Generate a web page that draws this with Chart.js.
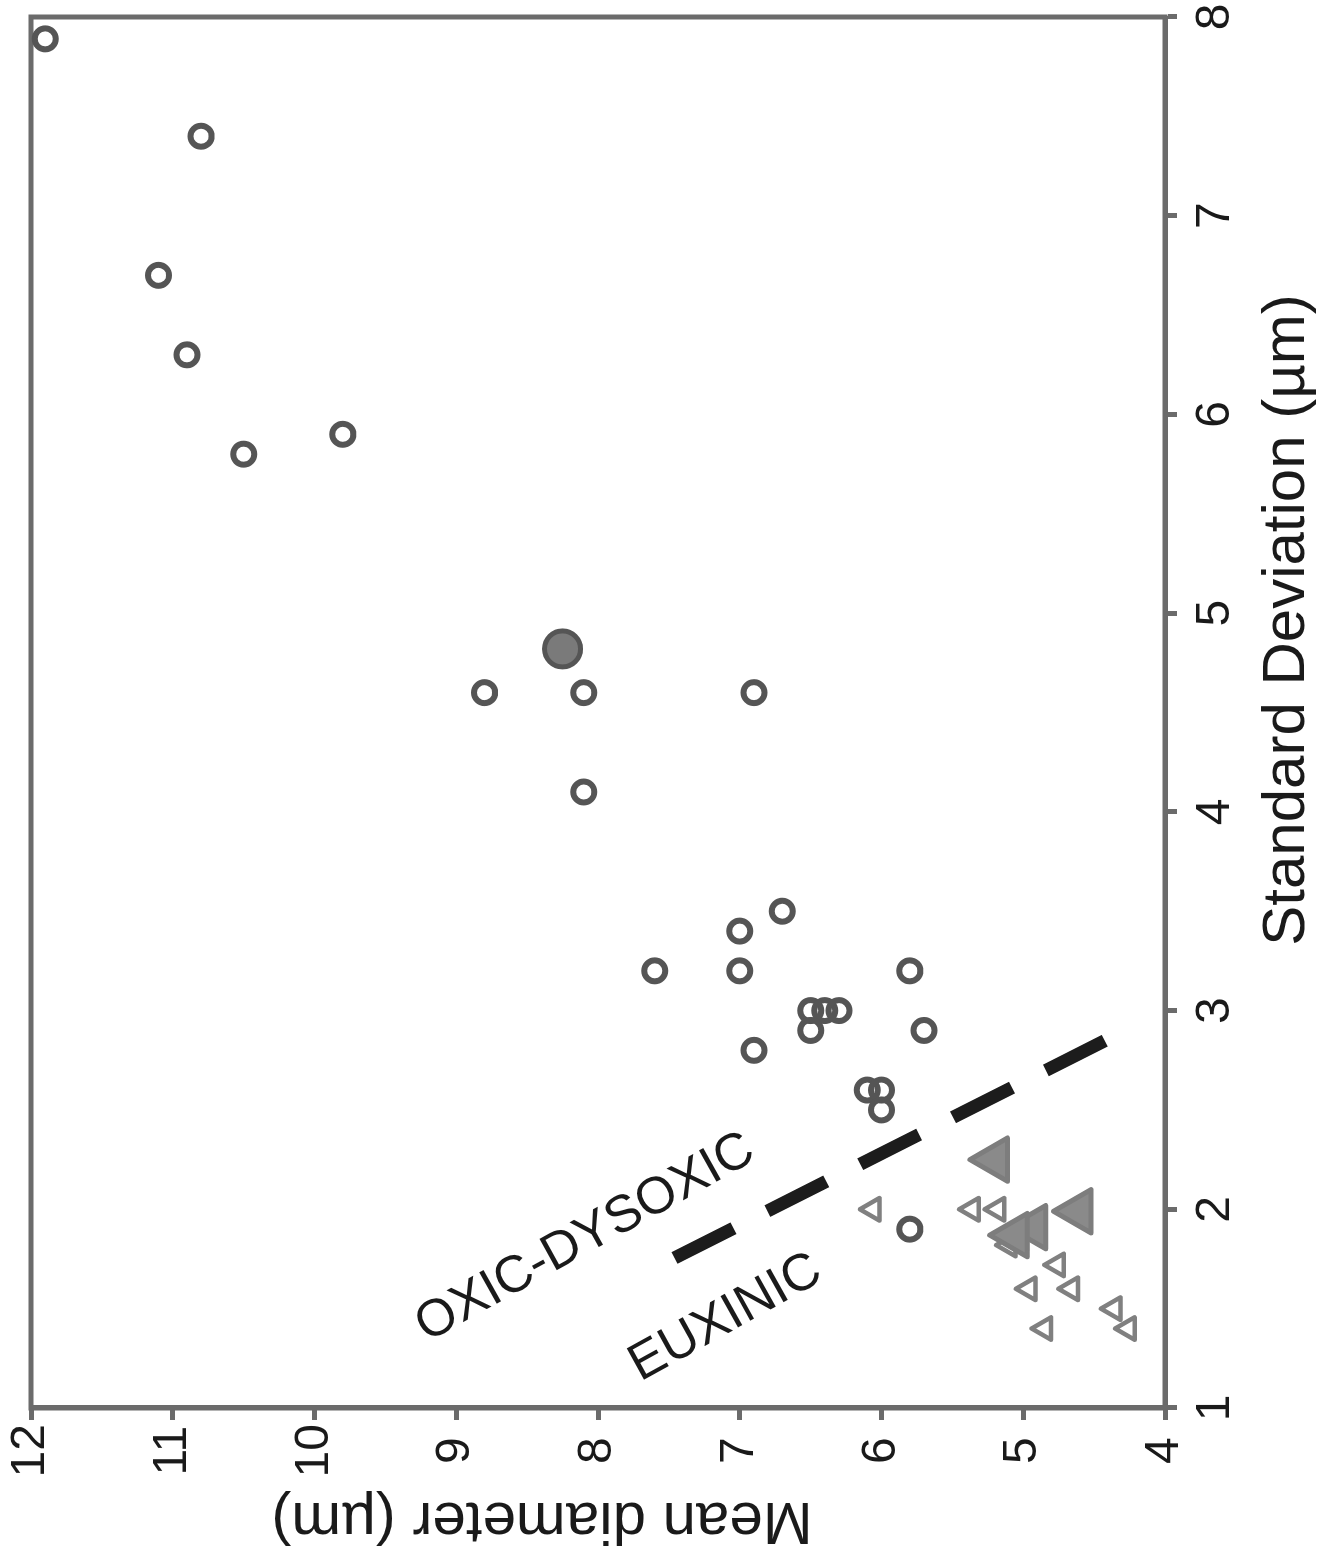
<!DOCTYPE html>
<html>
<head>
<meta charset="utf-8">
<script src="https://cdn.jsdelivr.net/npm/chart.js@4.4.0/dist/chart.umd.min.js"></script>
<style>
  html, body { margin: 0; padding: 0; background: #fff; overflow: hidden; }
  /* o gráfico original é desenhado deitado e girado -90° para ficar como a figura */
  #wrap {
    position: absolute; left: 0; top: 0;
    width: 1564px; height: 1320px;
    transform-origin: 0 0;
    transform: translateY(1564px) rotate(-90deg);
  }
</style>
</head>
<body>
<div id="wrap"><canvas id="grafico" width="1564" height="1320"></canvas></div>
<script>
// Textos e ticks dos eixos
const tituloX = 'Standard Deviation (µm)';
const tituloY = 'Mean diameter (µm)';
const ticksX = [1, 2, 3, 4, 5, 6, 7, 8];
const ticksY = [4, 5, 6, 7, 8, 9, 10, 11, 12];

// Círculos abertos (desvio padrão, diâmetro médio)
const circulosSD   = [7.89, 7.4, 6.7, 6.3, 5.8, 5.9, 4.6, 4.6, 4.6, 4.1, 3.5, 3.4, 3.2, 3.2, 3.2, 3.0, 3.0, 3.0, 2.9, 2.9, 2.8, 2.6, 2.6, 2.5, 1.9];
const circulosMedia = [11.9, 10.8, 11.1, 10.9, 10.5, 9.8, 8.8, 8.1, 6.9, 8.1, 6.7, 7.0, 7.6, 7.0, 5.8, 6.5, 6.4, 6.3, 6.5, 5.7, 6.9, 6.1, 6.0, 6.0, 5.8];

// Círculo cheio (grande)
const circuloGrandeSD = [4.82];
const circuloGrandeMedia = [8.25];

// Triângulos abertos
const triangulosSD    = [2.0, 2.0, 2.0, 1.72, 1.6, 1.6, 1.4, 1.5, 1.4, 1.82, 1.85];
const triangulosMedia = [6.06, 5.36, 5.18, 4.76, 4.96, 4.66, 4.85, 4.36, 4.26, 5.1, 5.02];

// Triângulos cheios (grandes)
const triangulosGrandesSD    = [2.25, 1.99, 1.91, 1.87];
const triangulosGrandesMedia = [5.2, 4.61, 4.93, 5.06];

// Linha tracejada que separa os campos
const limiteSD    = [1.755, 2.85];
const limiteMedia = [7.46, 4.42];

// Rótulos dos campos
const camposTexto = ['OXIC-DYSOXIC', 'EUXINIC'];
const camposSD    = [1.855, 1.453];
const camposMedia = [8.09, 7.10];

const corEixo = '#6b6b6b';
const corTexto = '#1a1a1a';
const fonte = "'Liberation Sans', Arial, Helvetica, sans-serif";

Chart.defaults.font.family = fonte;
Chart.defaults.color = corTexto;

// junta os pares x/y
function pares(xs, ys) {
    return xs.map((v, i) => ({ x: v, y: ys[i] }));
}

// caixa em volta da área do gráfico
const caixaPlugin = {
    id: 'caixa',
    beforeDatasetsDraw(chart) {
        const { ctx, chartArea } = chart;
        ctx.save();
        ctx.strokeStyle = corEixo;
        ctx.lineWidth = 5;
        ctx.strokeRect(chartArea.left, chartArea.top, chartArea.right - chartArea.left, chartArea.bottom - chartArea.top);
        ctx.restore();
        ctx.lineJoin = 'round'; // pontas dos triângulos arredondadas
    }
};

// títulos dos eixos e rótulos dos campos
const textosPlugin = {
    id: 'textos',
    afterDraw(chart) {
        const { ctx, chartArea, scales } = chart;
        ctx.save();
        ctx.fillStyle = corTexto;
        ctx.textAlign = 'center';
        ctx.textBaseline = 'middle';

        ctx.font = '60px ' + fonte;
        ctx.fillText(tituloX, chartArea.left + 788, chartArea.bottom + 122);

        ctx.save();
        ctx.translate(chartArea.left - 112, chartArea.top + 511);
        ctx.rotate(-Math.PI / 2);
        ctx.fillText(tituloY, 0, 0);
        ctx.restore();

        ctx.font = '52px ' + fonte;
        camposTexto.forEach((t, i) => {
            ctx.save();
            ctx.translate(scales.x.getPixelForValue(camposSD[i]), scales.y.getPixelForValue(camposMedia[i]));
            ctx.rotate(61 * Math.PI / 180);
            ctx.fillText(t, 0, 0);
            ctx.restore();
        });
        ctx.restore();
    }
};

const ctx = document.getElementById('grafico').getContext('2d');

new Chart(ctx, {
    type: 'scatter',
    data: {
        datasets: [
            {
                label: 'limite',
                data: pares(limiteSD, limiteMedia),
                showLine: true,
                borderColor: '#1c1c1c',
                borderWidth: 13,
                borderDash: [66, 38],
                borderCapStyle: 'butt',
                pointRadius: 0
            },
            {
                label: 'média círculos',
                data: pares(circuloGrandeSD, circuloGrandeMedia),
                pointStyle: 'circle',
                pointRadius: 18,
                borderWidth: 5,
                borderColor: '#555555',
                backgroundColor: '#7a7a7a'
            },
            {
                label: 'triângulos grandes',
                data: pares(triangulosGrandesSD, triangulosGrandesMedia),
                pointStyle: 'triangle',
                pointRadius: 25,
                borderWidth: 5,
                borderColor: '#7d7d7d',
                backgroundColor: '#8a8a8a'
            },
            {
                label: 'círculos',
                data: pares(circulosSD, circulosMedia),
                pointStyle: 'circle',
                pointRadius: 10.5,
                borderWidth: 6,
                borderColor: '#555555',
                backgroundColor: 'rgba(0,0,0,0)'
            },
            {
                label: 'triângulos',
                data: pares(triangulosSD, triangulosMedia),
                pointStyle: 'triangle',
                pointRadius: 13,
                borderWidth: 4.5,
                borderColor: '#808080',
                backgroundColor: 'rgba(0,0,0,0)'
            }
        ]
    },
    options: {
        responsive: false,
        animation: false,
        clip: false,
        // sem autoPadding: os triângulos grandes empurravam a margem direita
        layout: { autoPadding: false, padding: { top: 31, right: 17, left: 0, bottom: 0 } },
        plugins: {
            legend: { display: false },
            tooltip: { enabled: false }
        },
        scales: {
            x: {
                type: 'linear',
                position: 'bottom',
                min: 1,
                max: 8,
                afterBuildTicks: s => { s.ticks = ticksX.map(v => ({ value: v })); },
                afterFit: s => { s.height = 155; s.paddingLeft = 0; s.paddingRight = 0; },
                ticks: { font: { size: 48 }, color: corTexto, padding: 10 },
                grid: { drawOnChartArea: false, drawTicks: true, tickLength: 12, tickWidth: 5, tickColor: corEixo },
                border: { display: true, color: corEixo, width: 5 }
            },
            y: {
                type: 'linear',
                position: 'left',
                min: 4,
                max: 12,
                afterBuildTicks: s => { s.ticks = ticksY.map(v => ({ value: v })); },
                afterFit: s => { s.width = 156; s.paddingTop = 0; s.paddingBottom = 0; },
                ticks: { font: { size: 48 }, color: corTexto, padding: 4, crossAlign: 'center' },
                grid: { drawOnChartArea: false, drawTicks: true, tickLength: 12, tickWidth: 5, tickColor: corEixo },
                border: { display: true, color: corEixo, width: 5 }
            }
        }
    },
    plugins: [caixaPlugin, textosPlugin]
});
</script>
</body>
</html>
